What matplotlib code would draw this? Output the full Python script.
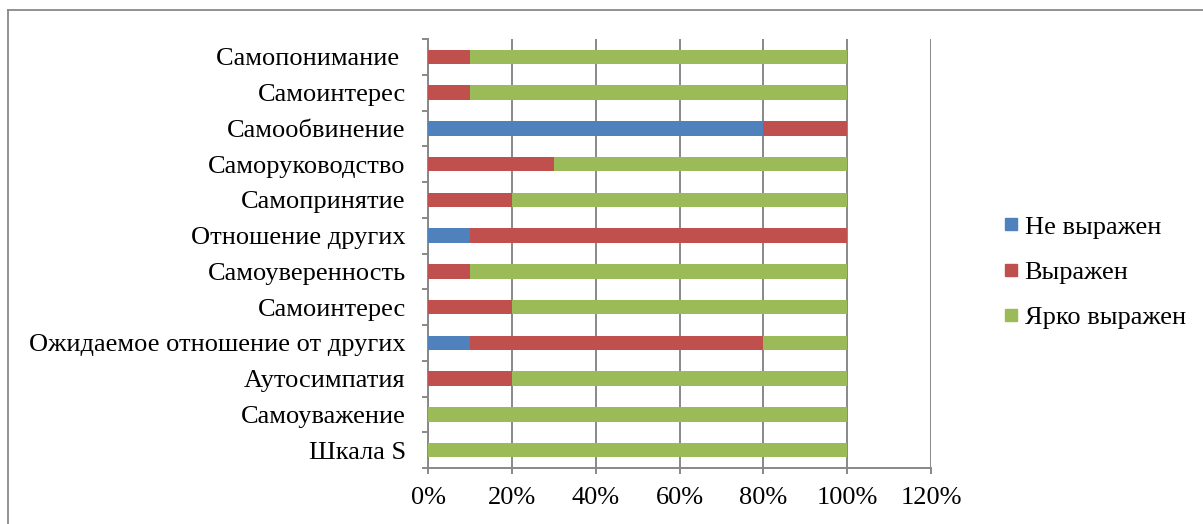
import matplotlib
matplotlib.use("Agg")
import matplotlib.pyplot as plt
import numpy as np
from matplotlib.lines import Line2D

categories = ["Шкала S", "Самоуважение", "Аутосимпатия", "Ожидаемое отношение от других",
              "Самоинтерес", "Самоуверенность", "Отношение других", "Самопринятие",
              "Саморуководство", "Самообвинение", "Самоинтерес", "Самопонимание "]
ne_vyrazhen = [0, 0, 0, 10, 0, 0, 10, 0, 0, 80, 0, 0]
vyrazhen = [0, 0, 20, 70, 20, 10, 90, 20, 30, 20, 10, 10]
yarko = [100, 100, 80, 20, 80, 90, 0, 80, 70, 0, 90, 90]
series_names = ["Не выражен", "Выражен", "Ярко выражен"]
colors = ["#4F81BD", "#C0504D", "#9BBB59"]
xticks = [0, 20, 40, 60, 80, 100, 120]
xtick_labels = ["0%", "20%", "40%", "60%", "80%", "100%", "120%"]

plt.rcParams['font.family'] = ['Liberation Serif', 'DejaVu Serif']
FS = 19
GRID = '#888888'

W, H = 1203, 524
fig = plt.figure(figsize=(W / 100, H / 100), dpi=100)
ax = fig.add_axes([428 / W, 1 - 468 / H, (931 - 428) / W, (468 - 39) / H])

y = np.arange(len(categories))
left = np.zeros(len(categories))
for vals, name, c in zip([ne_vyrazhen, vyrazhen, yarko], series_names, colors):
    ax.barh(y, vals, left=left, height=0.4, color=c, label=name, zorder=3)
    left = left + np.array(vals)

ax.set_xlim(0, 120)
ax.set_ylim(-0.5, len(categories) - 0.5)
ax.set_xticks(xticks)
ax.set_xticklabels(xtick_labels, fontsize=FS)
ax.set_yticks(y)
ax.set_yticklabels(categories, fontsize=FS)
ax.set_yticks(np.arange(-0.5, len(categories), 1), minor=True)
ax.tick_params(axis='y', which='major', length=0, pad=16)
ax.tick_params(axis='y', which='minor', length=4.5, width=1.4, color=GRID, direction='out')
ax.tick_params(axis='x', which='major', length=4, width=1.4, color=GRID, pad=10)

ax.grid(axis='x', color=GRID, linewidth=1.4, zorder=0)
for s in ['top', 'right']:
    ax.spines[s].set_visible(False)
for s in ['left', 'bottom']:
    ax.spines[s].set_color(GRID)
    ax.spines[s].set_linewidth(1.4)

handles = [Line2D([0], [0], marker='s', linestyle='none', markersize=9,
                  markerfacecolor=c, markeredgecolor=c) for c in colors]
fig.legend(handles, series_names, loc='center left', bbox_to_anchor=(993 / W, 1 - 272 / H),
           frameon=False, fontsize=FS, handlelength=0.6, handletextpad=0.2,
           labelspacing=0.82, borderaxespad=0)

# outer chart border (partially cropped)
fig.add_artist(Line2D([8 / W, 1], [1 - 10 / H, 1 - 10 / H], transform=fig.transFigure,
                      color='#898989', linewidth=1.3))
fig.add_artist(Line2D([8 / W, 8 / W], [0, 1 - 10 / H], transform=fig.transFigure,
                      color='#898989', linewidth=1.3))

fig.savefig("out.png", dpi=100)
